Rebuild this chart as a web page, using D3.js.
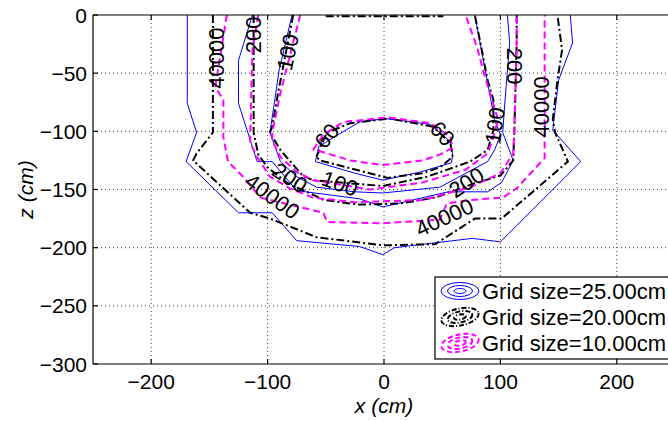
<!DOCTYPE html>
<html><head><meta charset="utf-8">
<script src="https://cdn.jsdelivr.net/npm/d3@7"></script>
<style>body{margin:0;background:#fff}svg{display:block}text{font-family:"Liberation Sans",Arial,sans-serif}</style>
</head><body><svg id="c" width="668" height="421"></svg>
<script>
const xTicks=[-200,-100,0,100,200];
const zTicks=[0,-50,-100,-150,-200,-250,-300];
const seriesNames=["Grid size=25.00cm","Grid size=20.00cm","Grid size=10.00cm"];
const levels=["60","100","200","40000"];
// 25 cm grid (blue)
const blue60=[[-59,-126],[-56,-113],[-38,-102],[-21,-92],[1,-89],[40,-94],[57,-109],[59,-120],[58,-127],[31,-135],[-1,-142],[-25,-136],[-59,-126]];
const blue100=[[-79,0],[-90,-47],[-98,-101],[-89,-126],[-75,-139],[-58,-148],[-25,-152],[-1,-153],[48,-148],[89,-126],[95,-116],[100,-103],[95,-90],[78,0]];
const blue200=[[-113,0],[-125,-39],[-125,-76],[-117,-101],[-109,-126],[-96,-126],[-75,-151],[-21,-158],[-1,-165],[55,-152],[89,-152],[101,-144],[111,-125],[102,-101],[104,-73],[108,-24],[106,0]];
const blue40000=[[-169,0],[-169,-76],[-161,-101],[-170,-126],[-125,-170],[-96,-170],[-75,-194],[-21,-199],[-1,-206],[9,-200],[76,-192],[100,-195],[169,-126],[145,-99],[150,-56],[162,-24],[160,0]];
// 20 cm grid (black)
const black60=[[-58,-122],[-53,-110],[-49,-101],[-29,-93],[5,-89],[42,-96],[57,-110],[59,-122],[48,-131],[33,-136],[3,-140],[-32,-131],[-55,-125],[-58,-122]];
const black100=[[-78,0],[-91,-67],[-96,-96],[-98,-101],[-89,-116],[-70,-138],[-61,-142],[-1,-147],[37,-139],[74,-126],[89,-116],[94,-99],[94,-73],[89,-56],[84,-30],[78,0]];
const black200=[[-112,0],[-112,-101],[-108,-120],[-100,-131],[-81,-146],[-66,-152],[-52,-159],[-21,-163],[14,-162],[44,-157],[74,-146],[100,-138],[111,-125],[112,-99],[114,-24],[114,0]];
const black40000=[[-147,0],[-147,-101],[-161,-119],[-164,-125],[-115,-170],[-98,-175],[-58,-191],[-1,-198],[44,-197],[78,-175],[101,-175],[158,-126],[147,-101],[145,-90],[149,-56],[153,-30],[149,0]];
const blackTop=[[-50,-1],[51,-1]];
// 10 cm grid (magenta)
const mag60=[[-61,-116],[-52,-103],[-35,-92],[3,-88],[40,-93],[57,-105],[59,-114],[48,-120],[33,-125],[-1,-129],[-29,-125],[-52,-118],[-61,-116]];
const mag100=[[-72,0],[-89,-67],[-96,-101],[-96,-108],[-89,-122],[-75,-135],[-61,-142],[-12,-150],[33,-144],[70,-133],[89,-119],[93,-108],[98,-90],[91,-67],[85,-47],[80,-28],[70,0]];
const mag200=[[-108,0],[-113,-30],[-114,-67],[-115,-110],[-109,-122],[-98,-139],[-81,-149],[-61,-157],[-25,-161],[33,-159],[74,-148],[100,-136],[111,-119],[112,-99],[114,-24],[114,0]];
const mag40000=[[-135,0],[-145,-62],[-138,-73],[-138,-105],[-134,-126],[-121,-139],[-106,-157],[-81,-163],[-52,-170],[-49,-178],[-1,-179],[48,-176],[54,-162],[74,-159],[102,-157],[114,-149],[138,-123],[138,0]];
// contour labels: [text, x, z, angle]
const contourLabels=[["40000",-143.5,-37,-90],["200",-112.5,-17,-90],["100",-82.5,-32,-78],["40000",135.7,-79,-90],["200",111.7,-44,90],["100",95.4,-95,-82],["60",-49,-104,-50],["60",50,-102,48],["200",-81,-140,33],["100",-38,-145,20],["40000",-96,-156,36],["200",71,-144,-33],["40000",52,-174,-25]];

const styles=[{c:"#0000ff",w:1,d:null},{c:"#000000",w:2,d:"8,3,2,3"},{c:"#ff00ff",w:2,d:"7,4"}];
const series=[[blue60,blue100,blue200,blue40000],[black60,black100,black200,black40000,blackTop],[mag60,mag100,mag200,mag40000]];

const svg=d3.select("#c");
const x=d3.scaleLinear().domain([-250,250]).range([93,675]);
const y=d3.scaleLinear().domain([-300,0]).range([364,15]);
const fs=21, lfs=22;

svg.append("defs").append("clipPath").attr("id","clip").append("rect")
  .attr("x",x(-250)).attr("y",y(0)).attr("width",x(250)-x(-250)).attr("height",y(-300)-y(0));

// grid
const g=svg.append("g");
g.selectAll(".gx").data(xTicks).enter().append("line")
  .attr("x1",d=>x(d)).attr("x2",d=>x(d)).attr("y1",y(0)).attr("y2",y(-300))
  .attr("stroke","#444").attr("stroke-width",1).attr("stroke-dasharray","1,3");
g.selectAll(".gy").data(zTicks.slice(1,-1)).enter().append("line")
  .attr("x1",x(-250)).attr("x2",x(250)).attr("y1",d=>y(d)).attr("y2",d=>y(d))
  .attr("stroke","#444").attr("stroke-width",1).attr("stroke-dasharray","1,3");

// contours
const line=d3.line().x(d=>x(d[0])).y(d=>y(d[1]));
const plot=svg.append("g").attr("clip-path","url(#clip)");
series.forEach((s,i)=>{
  s.forEach(path=>{
    plot.append("path").attr("d",line(path)).attr("fill","none")
      .attr("stroke",styles[i].c).attr("stroke-width",styles[i].w)
      .attr("stroke-dasharray",styles[i].d).attr("stroke-linejoin","round");
  });
});
// contour labels
svg.selectAll(".cl").data(contourLabels).enter().append("text")
  .attr("transform",d=>`translate(${x(d[1])},${y(d[2])}) rotate(${d[3]})`)
  .attr("text-anchor","middle").attr("dominant-baseline","central")
  .attr("font-size",lfs).attr("fill","#000").text(d=>d[0]);

// axes
const ax=svg.append("g").attr("stroke","#000").attr("stroke-width",1.2);
ax.append("line").attr("x1",x(-250)).attr("x2",x(-250)).attr("y1",y(0)).attr("y2",y(-300));
ax.append("line").attr("x1",x(-250)).attr("x2",x(250)).attr("y1",y(0)).attr("y2",y(0));
ax.append("line").attr("x1",x(-250)).attr("x2",x(250)).attr("y1",y(-300)).attr("y2",y(-300));
xTicks.forEach(t=>{
  ax.append("line").attr("x1",x(t)).attr("x2",x(t)).attr("y1",y(-300)).attr("y2",y(-300)-5);
  ax.append("line").attr("x1",x(t)).attr("x2",x(t)).attr("y1",y(0)).attr("y2",y(0)+5);
});
zTicks.forEach(t=>{
  ax.append("line").attr("x1",x(-250)).attr("x2",x(-250)+5).attr("y1",y(t)).attr("y2",y(t));
});
svg.selectAll(".xt").data(xTicks).enter().append("text")
  .attr("x",d=>x(d)).attr("y",y(-300)+17).attr("text-anchor","middle").attr("dominant-baseline","central")
  .attr("font-size",fs).text(d=>d<0?"\u2212"+(-d):d);
svg.selectAll(".yt").data(zTicks).enter().append("text")
  .attr("x",x(-250)-6).attr("y",d=>y(d)).attr("text-anchor","end").attr("dominant-baseline","central")
  .attr("font-size",fs).text(d=>d<0?"\u2212"+(-d):d);
svg.append("text").attr("x",x(0)).attr("y",405).attr("text-anchor","middle").attr("dominant-baseline","central")
  .attr("font-size",fs).attr("font-style","italic").text("x (cm)");
svg.append("text").attr("transform",`translate(25,${(y(0)+y(-300))/2}) rotate(-90)`)
  .attr("text-anchor","middle").attr("dominant-baseline","central")
  .attr("font-size",fs).attr("font-style","italic").text("z (cm)");

// legend
const lg=svg.append("g");
lg.append("rect").attr("x",435).attr("y",277).attr("width",260).attr("height",82)
  .attr("fill","#fff").attr("stroke","#000").attr("stroke-width",1.2);
seriesNames.forEach((n,i)=>{
  const cy=291+i*26;
  [[19,8.5],[12.5,5.5],[6,2.5]].forEach(r=>{
    lg.append("ellipse").attr("cx",460).attr("cy",cy).attr("rx",r[0]).attr("ry",r[1])
      .attr("transform",i===0?null:`rotate(-12,460,${cy})`)
      .attr("fill","none").attr("stroke",styles[i].c).attr("stroke-width",styles[i].w)
      .attr("stroke-dasharray",i===0?null:(i===1?"5,2,1,2":"5,3"));
  });
  lg.append("text").attr("x",482).attr("y",cy).attr("dominant-baseline","central")
    .attr("font-size",lfs).text(n);
});
</script></body></html>
